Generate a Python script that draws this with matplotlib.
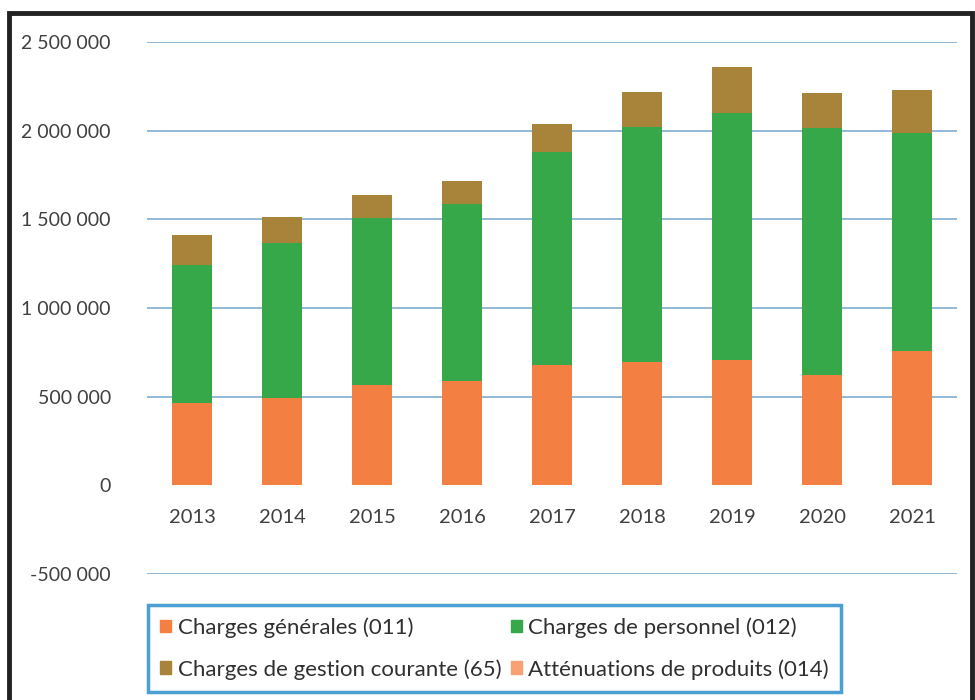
import matplotlib.pyplot as plt
import matplotlib.patches as mpatches
import numpy as np

years = ["2013", "2014", "2015", "2016", "2017", "2018", "2019", "2020", "2021"]
charges_generales = [465000, 495000, 563000, 591000, 681000, 698000, 709000, 625000, 755000]
charges_personnel = [779000, 873000, 946000, 997000, 1200000, 1323000, 1391000, 1391000, 1233000]
charges_gestion = [169000, 147000, 129000, 129000, 157000, 197000, 259000, 197000, 242000]
attenuations = [0, 0, 0, 0, 0, 0, 0, 0, 0]

labels = ["Charges générales (011)", "Charges de personnel (012)",
          "Charges de gestion courante (65)", "Atténuations de produits (014)"]
colors = ["#F47F43", "#37A84A", "#A8843A", "#F7A273"]
yticks = [-500000, 0, 500000, 1000000, 1500000, 2000000, 2500000]

plt.rcParams['font.family'] = ['Lato', 'DejaVu Sans']

fig = plt.figure(figsize=(9.75, 7), dpi=100)
ax = fig.add_axes([147/975, 1-574/700, (957-147)/975, (574-42)/700])

x = np.arange(len(years))
w = 0.455
ax.bar(x, charges_generales, w, color=colors[0], label=labels[0])
bottom = np.array(charges_generales)
ax.bar(x, charges_personnel, w, bottom=bottom, color=colors[1], label=labels[1])
bottom = bottom + np.array(charges_personnel)
ax.bar(x, charges_gestion, w, bottom=bottom, color=colors[2], label=labels[2])
bottom = bottom + np.array(charges_gestion)
ax.bar(x, attenuations, w, bottom=bottom, color=colors[3], label=labels[3])

ax.set_xlim(-0.5, len(years) - 0.5)
ax.set_ylim(-500000, 2500000)
ax.set_yticks(yticks)
ax.set_yticklabels([f"{v:,}".replace(",", " ") for v in yticks])
ax.yaxis.grid(True, color="#8AB4D4", lw=1.3)
ax.set_axisbelow(True)
for t, gl in zip(yticks, ax.yaxis.get_gridlines()):
    if t == 0:
        gl.set_visible(False)
for s in ["top", "right", "left"]:
    ax.spines[s].set_visible(False)
ax.spines["bottom"].set_position(("data", 0))
ax.spines["bottom"].set_visible(False)
ax.set_xticks(x)
ax.set_xticklabels(years)
ax.tick_params(axis="x", length=0, pad=17, labelsize=14.5, labelcolor="#404040")
ax.tick_params(axis="y", length=0, pad=26, labelsize=14, labelcolor="#404040")

# row-major order as in the reference legend
order = [0, 2, 1, 3]
handles = [mpatches.Patch(color=colors[i]) for i in order]
leg = fig.legend(handles, [labels[i] for i in order], loc="upper left", ncol=2,
                 bbox_to_anchor=(148/975, 1-605/700),
                 fontsize=16, frameon=True, fancybox=False, handlelength=0.5,
                 handleheight=0.5, handletextpad=0.3, borderaxespad=0,
                 borderpad=0.55, labelspacing=0.95, columnspacing=0.4,
                 labelcolor="#303030")
leg.get_frame().set_edgecolor("#1E88C8")
leg.get_frame().set_linewidth(2.5)

border = mpatches.Rectangle((9/975, -0.02), 963/975, 1 - 13/700 + 0.02,
                            transform=fig.transFigure, fill=False,
                            edgecolor="#222222", lw=3.5, clip_on=False)
fig.patches.append(border)

fig.savefig("out.png", dpi=100)
